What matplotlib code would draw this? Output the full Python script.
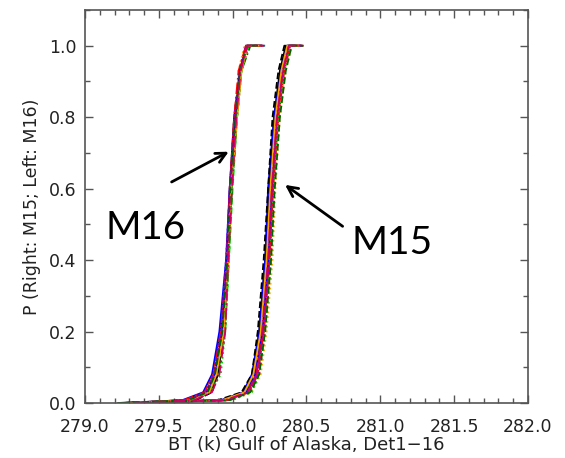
import matplotlib
matplotlib.use('Agg')
import matplotlib.pyplot as plt
from matplotlib.ticker import MultipleLocator

# cumulative probability levels shared by every curve
p_levels = [0.0, 0.008, 0.03, 0.08, 0.2, 0.4, 0.6, 0.8, 0.93, 1.0, 1.0]

# BT (K) at each probability level, one row per detector (Det1-16)
m16_bt = [
    [279.25, 279.68, 279.82, 279.87, 279.92, 279.96, 279.98, 280.01, 280.05, 280.09, 280.19],
    [279.32, 279.72, 279.84, 279.89, 279.94, 279.97, 279.99, 280.03, 280.06, 280.11, 280.20],
    [279.40, 279.74, 279.85, 279.90, 279.95, 279.975, 280.00, 280.03, 280.06, 280.10, 280.18],
    [279.28, 279.66, 279.80, 279.86, 279.91, 279.955, 279.98, 280.02, 280.05, 280.10, 280.21],
    [279.35, 279.71, 279.83, 279.88, 279.93, 279.965, 279.99, 280.02, 280.05, 280.10, 280.20],
    [279.30, 279.69, 279.82, 279.87, 279.93, 279.96, 279.985, 280.02, 280.04, 280.08, 280.17],
    [279.22, 279.73, 279.85, 279.90, 279.94, 279.97, 279.995, 280.03, 280.06, 280.12, 280.22],
    [279.36, 279.70, 279.84, 279.89, 279.93, 279.965, 279.985, 280.015, 280.05, 280.09, 280.19],
    [279.30, 279.75, 279.86, 279.90, 279.94, 279.97, 279.99, 280.02, 280.05, 280.10, 280.20],
    [279.27, 279.67, 279.81, 279.87, 279.92, 279.96, 279.98, 280.01, 280.04, 280.09, 280.18],
    [279.33, 279.72, 279.85, 279.92, 279.95, 279.975, 279.995, 280.03, 280.06, 280.11, 280.21],
    [279.38, 279.71, 279.83, 279.88, 279.93, 279.96, 279.985, 280.02, 280.05, 280.10, 280.20],
    [279.29, 279.69, 279.82, 279.87, 279.92, 279.955, 279.98, 280.01, 280.05, 280.09, 280.19],
    [279.31, 279.73, 279.84, 279.89, 279.94, 279.97, 279.99, 280.03, 280.06, 280.10, 280.20],
    [279.26, 279.70, 279.83, 279.88, 279.93, 279.965, 279.985, 280.02, 280.05, 280.10, 280.20],
    [279.34, 279.74, 279.86, 279.91, 279.95, 279.97, 279.995, 280.025, 280.055, 280.10, 280.21],
]

m15_bt = [
    [279.28, 279.93, 280.08, 280.14, 280.18, 280.22, 280.25, 280.28, 280.32, 280.36, 280.45],
    [279.33, 279.98, 280.12, 280.18, 280.22, 280.26, 280.28, 280.31, 280.35, 280.39, 280.48],
    [279.40, 279.97, 280.11, 280.17, 280.21, 280.25, 280.27, 280.30, 280.34, 280.38, 280.46],
    [279.25, 279.92, 280.07, 280.13, 280.18, 280.22, 280.24, 280.28, 280.33, 280.37, 280.46],
    [279.35, 279.96, 280.10, 280.16, 280.20, 280.24, 280.265, 280.30, 280.34, 280.38, 280.47],
    [279.30, 280.00, 280.13, 280.19, 280.23, 280.27, 280.29, 280.32, 280.36, 280.40, 280.48],
    [279.22, 279.94, 280.09, 280.15, 280.19, 280.23, 280.26, 280.29, 280.33, 280.37, 280.46],
    [279.36, 279.95, 280.10, 280.16, 280.21, 280.25, 280.27, 280.30, 280.34, 280.38, 280.47],
    [279.30, 279.90, 280.06, 280.13, 280.17, 280.21, 280.24, 280.27, 280.31, 280.35, 280.44],
    [279.27, 279.97, 280.11, 280.17, 280.21, 280.25, 280.275, 280.31, 280.35, 280.39, 280.48],
    [279.33, 279.99, 280.13, 280.18, 280.22, 280.26, 280.28, 280.31, 280.35, 280.39, 280.47],
    [279.38, 279.94, 280.09, 280.15, 280.20, 280.24, 280.26, 280.29, 280.33, 280.37, 280.46],
    [279.29, 279.96, 280.11, 280.17, 280.21, 280.245, 280.27, 280.30, 280.34, 280.38, 280.47],
    [279.31, 279.93, 280.08, 280.14, 280.19, 280.23, 280.255, 280.29, 280.33, 280.37, 280.45],
    [279.26, 279.98, 280.12, 280.18, 280.22, 280.26, 280.285, 280.32, 280.36, 280.40, 280.48],
    [279.34, 279.95, 280.10, 280.16, 280.20, 280.24, 280.265, 280.30, 280.34, 280.38, 280.46],
]

det_colors = ['black', 'red', '#00d000', 'blue', '#9000d0', 'orange', '#006400', '#d00060',
              'black', 'red', '#00d000', 'blue', '#9000d0', 'orange', '#006400', '#d00060']
det_styles = ['-', ':', '--', '-', '-', ':', '-.', '--',
              '--', '-.', ':', '--', ':', '-', '--', '-.']

fig = plt.figure(figsize=(5.65, 4.58), dpi=100)
ax = fig.add_axes([0.1504, 0.1201, 0.7841, 0.8581])

for i in range(16):
    ax.plot(m16_bt[i], p_levels, color=det_colors[i], ls=det_styles[i], lw=1.3)
    ax.plot(m15_bt[i], p_levels, color=det_colors[i], ls=det_styles[i], lw=1.3)

ax.set_xlim(279.0, 282.0)
ax.set_ylim(0.0, 1.1)
ax.xaxis.set_major_locator(MultipleLocator(0.5))
ax.xaxis.set_minor_locator(MultipleLocator(0.1))
ax.yaxis.set_major_locator(MultipleLocator(0.2))
ax.yaxis.set_minor_locator(MultipleLocator(0.1))
ax.xaxis.set_major_formatter(plt.FormatStrFormatter('%.1f'))
ax.yaxis.set_major_formatter(plt.FormatStrFormatter('%.1f'))

ax.tick_params(which='both', direction='in', top=True, right=True,
               color='#555555', labelsize=12.5, labelcolor='#222222',
               labelfontfamily='DejaVu Sans')
ax.tick_params(which='major', length=6, width=1)
ax.tick_params(which='minor', length=3.5, width=1)
ax.tick_params(axis='x', pad=11)
ax.tick_params(axis='y', pad=6)
for s in ax.spines.values():
    s.set_color('#555555')
    s.set_linewidth(1.2)

ax.set_xlabel('BT (k) Gulf of Alaska, Det1\u221216', fontsize=13,
              family='DejaVu Sans', color='#222222', labelpad=0)
ax.set_ylabel('P (Right: M15; Left: M16)', fontsize=12.5,
              family='DejaVu Sans', color='#222222', labelpad=6)

arrow = dict(arrowstyle='->', color='black', lw=2, mutation_scale=18)
ax.annotate('', xy=(279.99, 0.707), xytext=(279.57, 0.615), arrowprops=arrow)
ax.annotate('', xy=(280.34, 0.615), xytext=(280.76, 0.49), arrowprops=arrow)
ax.text(279.41, 0.49, 'M16', fontsize=27.5, family='Lato', ha='center', va='center')
ax.text(281.08, 0.447, 'M15', fontsize=28, family='Lato', ha='center', va='center')

fig.savefig('out.png', dpi=100)
